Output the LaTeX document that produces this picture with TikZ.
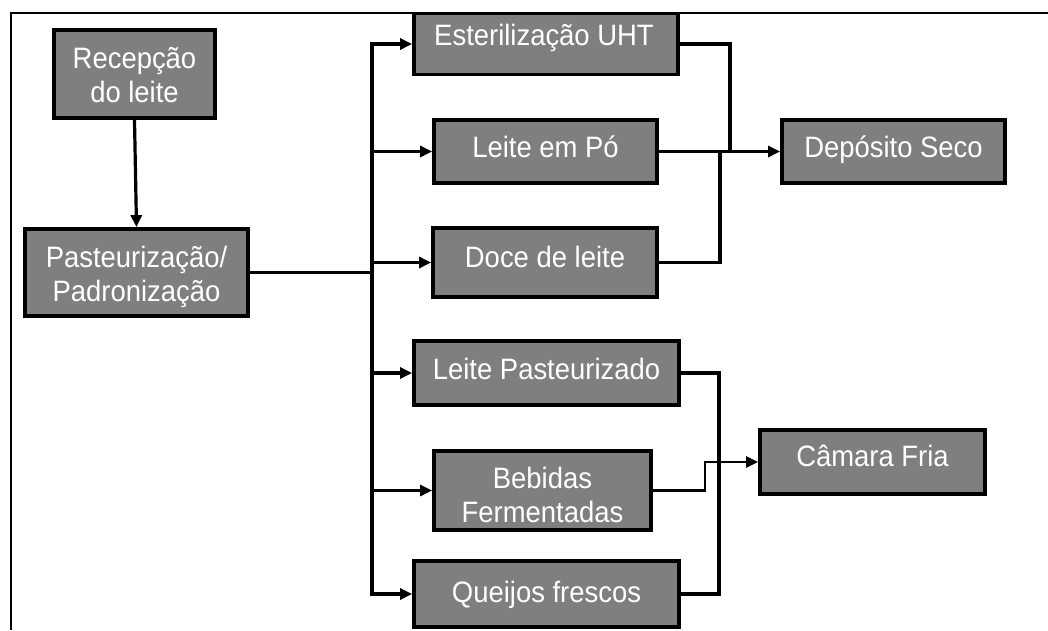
\documentclass[tikz,border=0pt]{standalone}
\usepackage{fontspec}
\setmainfont{Liberation Sans}
\newfontfamily\boxfont[FakeStretch=0.93]{Liberation Sans}
\usetikzlibrary{arrows.meta}
\definecolor{boxgray}{RGB}{127,127,127}
\begin{document}
\begin{tikzpicture}[x=1pt,y=-1pt,
  box/.style={draw=black, line width=3.8pt, fill=boxgray, rectangle, inner sep=0pt},
  txt/.style={text=white, font=\boxfont\fontsize{29.5}{34}\selectfont, inner sep=0pt, align=center, anchor=base},
  conn/.style={line width=3.2pt},
  arr/.style={conn, -{Triangle[length=12pt,width=11pt]}},
  frameline/.style={line width=1.8pt}]
\useasboundingbox (0,0) rectangle (1048,630);
% boxes
\node[box, minimum width=161pt, minimum height=88pt] (rec) at (134.5,74) {};
\node[box, minimum width=223pt, minimum height=87pt] (pad) at (136.5,272.5) {};
\node[box, minimum width=264pt, minimum height=61pt] (uht) at (546,44) {};
\node[box, minimum width=223pt, minimum height=63pt] (po) at (545.5,151.5) {};
\node[box, minimum width=224pt, minimum height=69pt] (doce) at (545,262.5) {};
\node[box, minimum width=223pt, minimum height=63pt] (dep) at (893.5,151.5) {};
\node[box, minimum width=265pt, minimum height=64pt] (lp) at (546.5,373) {};
\node[box, minimum width=217pt, minimum height=79pt] (beb) at (542.5,490.5) {};
\node[box, minimum width=265pt, minimum height=66pt] (qf) at (546.5,594) {};
\node[box, minimum width=225pt, minimum height=64pt] (cam) at (872.5,462) {};
% texts
\node[txt] (trec) at (134.5,102) {Recepção\\do leite};
\node[txt] (tpad) at (136.5,301) {Pasteurização/\\Padronização};
\node[txt] (tuht) at (544,45) {Esterilização UHT};
\node[txt] (tpo) at (545.5,157) {Leite em Pó};
\node[txt] (tdoce) at (545,267) {Doce de leite};
\node[txt] (tdep) at (893.5,157) {Depósito Seco};
\node[txt] (tlp) at (546.5,379) {Leite Pasteurizado};
\node[txt] (tbeb) at (542.5,522) {Bebidas\\Fermentadas};
\node[txt] (tqf) at (546.5,602) {Queijos frescos};
\node[txt] (tcam) at (872.5,466) {Câmara Fria};
% connectors
\draw[arr] (rec.south) -- (pad.north);
\coordinate (j) at (372,272.5);
\draw[conn] (pad.east) -- (j);
\draw[arr] (j) |- (uht.west);
\draw[arr] (j) |- (po.west);
\draw[arr] (j) |- (doce.west);
\draw[arr] (j) |- (lp.west);
\draw[arr] (j) |- (beb.west);
\draw[arr] (j) |- (qf.west);
\coordinate (k1) at (730,151.5);
\coordinate (k2) at (720,151.5);
\draw[conn] (uht.east) -| (k1);
\draw[conn] (doce.east) -| (k2);
\draw[arr] (po.east) -- (dep.west);
\coordinate (m1) at (719,594);
\draw[conn] (lp.east) -| (m1) -- (qf.east);
\coordinate (n1) at (705,462);
\draw[arr, line width=2.4pt] (beb.east) -| (n1) -- (cam.west);
% frame
\draw[frameline] (11,630) -- (11,13) -- (1048,13);
\end{tikzpicture}
\end{document}
